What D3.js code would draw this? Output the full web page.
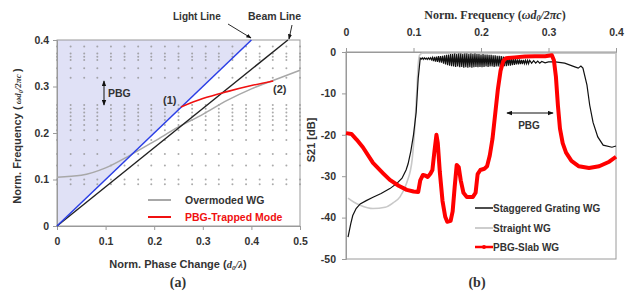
<!DOCTYPE html>
<html>
<head>
<meta charset="utf-8">
<script src="https://cdn.jsdelivr.net/npm/d3@7"></script>
<style>
  body { margin: 0; background: #fff; }
  svg { display: block; font-family: "Liberation Sans", Arial, sans-serif; font-weight: bold; }
  text { fill: #333; }
</style>
</head>
<body>
<div id="chart"></div>
<script>
// ---- panel (a): dispersion diagram ----
const phaseTicks = [0, 0.1, 0.2, 0.3, 0.4, 0.5];
const freqTicksA = [0, 0.1, 0.2, 0.3, 0.4];
const lightLine = [[0, 0], [0.4, 0.4]];
const beamLine = [[0, 0], [0.475, 0.4]];
const overmodedWG = [[0, 0.105], [0.05, 0.109], [0.1, 0.125], [0.15, 0.152], [0.2, 0.182],
  [0.25, 0.213], [0.3, 0.24], [0.35, 0.27], [0.4, 0.295], [0.45, 0.315], [0.5, 0.335]];
const trappedMode = [[0.255, 0.256], [0.3, 0.274], [0.35, 0.289], [0.4, 0.302], [0.445, 0.312]];
const bandCols = [0, 0.028, 0.056, 0.083, 0.111, 0.139, 0.167, 0.194, 0.222, 0.25,
  0.278, 0.306, 0.333, 0.361, 0.389, 0.417, 0.444, 0.472, 0.5];
const bandRows = [0.386, 0.371, 0.364, 0.357, 0.339, 0.319, 0.26, 0.252, 0.244,
  0.236, 0.228, 0.217, 0.206, 0.185, 0.155, 0.13, 0.1, 0.09];

// ---- panel (b): transmission ----
const freqTicksB = [0, 0.1, 0.2, 0.3, 0.4];
const dbTicks = [0, -10, -20, -30, -40, -50];
const straightWG = [[0.003, -35.3], [0.012, -36.3], [0.021, -37], [0.04, -37.8], [0.058, -37.5],
  [0.07, -36.4], [0.08, -35], [0.09, -31.6], [0.098, -26], [0.102, -18], [0.105, -9], [0.107, -3],
  [0.109, -0.8], [0.113, -0.3], [0.2, -0.3], [0.3, -0.3], [0.4, -0.3]];
const staggeredWG = [[0.003, -44.7], [0.007, -41.5], [0.01, -39.5], [0.015, -37.8], [0.021, -36.7],
  [0.03, -35.9], [0.04, -35.1], [0.052, -34.2], [0.065, -33], [0.075, -31.8], [0.083, -30.5],
  [0.089, -28.5], [0.092, -27], [0.096, -24], [0.1, -20], [0.104, -14.5], [0.107, -6.3], [0.11, -1.5],
  [0.1115, -1.7], [0.113, -1.4], [0.1145, -1.8], [0.116, -1.4], [0.1175, -1.7], [0.119, -1.5],
  [0.1205, -1.8], [0.122, -1.4], [0.1235, -1.8], [0.125, -1.4], [0.1265, -1.9], [0.128, -1.3],
  [0.1295, -2.2], [0.131, -1.2], [0.1325, -2.3], [0.134, -1.1], [0.1355, -2.4], [0.137, -1.0],
  [0.1385, -2.5], [0.14, -1.0], [0.1415, -2.6], [0.143, -0.9], [0.1445, -2.8], [0.146, -0.8],
  [0.1475, -3.0], [0.149, -0.7], [0.1505, -3.2], [0.152, -0.6], [0.1535, -3.3], [0.155, -0.5],
  [0.1565, -3.4], [0.158, -0.5], [0.1595, -3.5], [0.161, -0.4], [0.1625, -3.6], [0.164, -0.5],
  [0.1655, -3.5], [0.167, -0.4], [0.1685, -3.7], [0.17, -0.4], [0.1715, -3.6], [0.173, -0.5],
  [0.1745, -3.8], [0.176, -0.4], [0.1775, -3.7], [0.179, -0.4], [0.1805, -3.8], [0.182, -0.5],
  [0.1835, -3.7], [0.185, -0.4], [0.1865, -3.8], [0.188, -0.5], [0.1895, -3.7], [0.191, -0.4],
  [0.1925, -3.6], [0.194, -0.5], [0.1955, -3.7], [0.197, -0.5], [0.1985, -3.6], [0.2, -0.6],
  [0.2015, -3.7], [0.203, -0.5], [0.2045, -3.6], [0.206, -0.6], [0.2075, -3.5], [0.209, -0.6],
  [0.2105, -3.6], [0.212, -0.7], [0.2135, -3.5], [0.215, -0.7], [0.2165, -3.5], [0.218, -0.8],
  [0.2195, -3.6], [0.221, -0.8], [0.2225, -3.5], [0.224, -0.9], [0.2255, -3.5], [0.227, -0.9],
  [0.2285, -3.6], [0.23, -1.0], [0.2315, -3.5], [0.233, -1.1], [0.2345, -3.4], [0.236, -1.2],
  [0.2375, -3.4], [0.239, -1.3], [0.2405, -3.3], [0.242, -1.4], [0.2435, -3.3], [0.245, -1.5],
  [0.2465, -3.2], [0.248, -1.6], [0.2495, -3.1], [0.251, -1.7], [0.2525, -3.0], [0.254, -1.8],
  [0.2555, -3.0], [0.257, -1.8], [0.2585, -2.9], [0.26, -1.9], [0.2615, -2.9], [0.263, -1.9],
  [0.2645, -2.8], [0.266, -2.0], [0.2675, -2.8], [0.269, -2.0], [0.2705, -2.8], [0.272, -2.0],
  [0.275, -2.7], [0.278, -2.1], [0.281, -2.7], [0.284, -2.2], [0.287, -2.7], [0.29, -2.3],
  [0.295, -2.6], [0.3, -2.4], [0.31, -2.4], [0.324, -2.7], [0.339, -3.6],
  [0.344, -3.9], [0.348, -3.4], [0.351, -3.9], [0.357, -8], [0.361, -12.8], [0.366, -17],
  [0.373, -20.5], [0.381, -22.5], [0.394, -23], [0.4, -22.7]];
const pbgSlabWG = [[0, -19.6], [0.008, -19.8], [0.016, -21.2], [0.025, -23], [0.04, -26.8],
  [0.055, -29.3], [0.065, -30.9], [0.078, -32.3], [0.09, -33.3], [0.1, -33.7], [0.107, -33.8],
  [0.11, -31], [0.114, -29.7], [0.118, -29.9], [0.121, -30.2], [0.125, -29.4], [0.128, -28.5],
  [0.131, -24], [0.134, -20], [0.136, -22], [0.139, -29], [0.143, -36], [0.147, -39.8],
  [0.15, -41], [0.155, -40.8], [0.158, -38.5], [0.161, -32.6], [0.164, -27.3], [0.167, -27.8],
  [0.17, -31], [0.174, -34], [0.179, -35], [0.188, -35], [0.192, -34], [0.195, -29.5],
  [0.199, -28.5], [0.205, -28.2], [0.209, -27.6], [0.213, -25], [0.217, -21], [0.221, -15],
  [0.225, -9], [0.229, -4.5], [0.233, -2.2], [0.237, -1.5], [0.25, -1.3], [0.265, -1.1],
  [0.28, -1.0], [0.295, -1.0], [0.305, -0.8], [0.308, -2], [0.311, -6], [0.314, -13],
  [0.317, -18.5], [0.321, -22], [0.326, -24.3], [0.334, -26.3], [0.345, -27.6], [0.36, -28],
  [0.375, -27.6], [0.39, -26.5], [0.4, -25.3]];

const width = 640, height = 291;
const svg = d3.select("#chart").append("svg")
  .attr("width", width).attr("height", height);

const defs = svg.append("defs");
defs.append("marker")
  .attr("id", "arr").attr("viewBox", "0 0 8 6")
  .attr("refX", 7).attr("refY", 3)
  .attr("markerWidth", 6).attr("markerHeight", 5)
  .attr("orient", "auto-start-reverse")
  .append("path").attr("d", "M0,0L8,3L0,6Z").attr("fill", "#111");

const axisGray = "#9a9a9a";
const serif = "Liberation Serif, Times New Roman, serif";

// ================= panel (a) =================
const xa = d3.scaleLinear().domain([0, 0.5]).range([57, 300]);
const ya = d3.scaleLinear().domain([0, 0.4]).range([226, 40]);
const ga = svg.append("g");

// region above light line
ga.append("path")
  .attr("d", d3.line()([[xa(0), ya(0)], [xa(0.4), ya(0.4)], [xa(0), ya(0.4)]]) + "Z")
  .attr("fill", "#e0e1f6");

// band-structure dots
bandCols.forEach(c => {
  ga.selectAll(null).data(bandRows).join("circle")
    .attr("cx", xa(c)).attr("cy", d => ya(d))
    .attr("r", 1).attr("fill", "#8f8f8f").attr("opacity", 0.75);
});

// frame
ga.append("rect").attr("x", 57).attr("y", 40).attr("width", 243).attr("height", 186)
  .attr("fill", "none").attr("stroke", axisGray).attr("stroke-width", 1);

const axA = ga.append("g").attr("transform", `translate(0,${ya(0)})`)
  .call(d3.axisBottom(xa).tickValues(phaseTicks).tickSize(4).tickPadding(8).tickFormat(d3.format("")));
const ayA = ga.append("g").attr("transform", `translate(${xa(0)},0)`)
  .call(d3.axisLeft(ya).tickValues(freqTicksA).tickSize(4).tickPadding(4).tickFormat(d3.format("")));
[axA, ayA].forEach(a => {
  a.attr("font-family", null);
  a.select(".domain").attr("stroke", axisGray);
  a.selectAll(".tick line").attr("stroke", axisGray);
  a.selectAll(".tick text").attr("font-size", 10.5);
});

const lineA = d3.line().x(d => xa(d[0])).y(d => ya(d[1]));
const curveA = d3.line().x(d => xa(d[0])).y(d => ya(d[1])).curve(d3.curveMonotoneX);

ga.append("path").datum(overmodedWG).attr("d", curveA)
  .attr("fill", "none").attr("stroke", "#a8a8a8").attr("stroke-width", 1.5);
ga.append("path").datum(beamLine).attr("d", lineA)
  .attr("fill", "none").attr("stroke", "#222").attr("stroke-width", 1.4);
ga.append("path").datum(lightLine).attr("d", lineA)
  .attr("fill", "none").attr("stroke", "#2b3fe6").attr("stroke-width", 1.5);
ga.append("path").datum(trappedMode).attr("d", curveA)
  .attr("fill", "none").attr("stroke", "#f01010").attr("stroke-width", 1.6);

// annotations
ga.append("text").attr("x", 163).attr("y", 104).attr("font-size", 11).text("(1)");
ga.append("text").attr("x", 273).attr("y", 93).attr("font-size", 11).text("(2)");
ga.append("line").attr("x1", 104).attr("y1", 81).attr("x2", 104).attr("y2", 105)
  .attr("stroke", "#111").attr("stroke-width", 1)
  .attr("marker-start", "url(#arr)").attr("marker-end", "url(#arr)");
ga.append("text").attr("x", 108).attr("y", 97).attr("font-size", 10.5).text("PBG");

ga.append("text").attr("x", 173).attr("y", 20).attr("font-size", 10).text("Light Line");
ga.append("line").attr("x1", 228).attr("y1", 24).attr("x2", 251).attr("y2", 38)
  .attr("stroke", "#111").attr("stroke-width", 0.9).attr("marker-end", "url(#arr)");
ga.append("text").attr("x", 248).attr("y", 20).attr("font-size", 10.5).text("Beam Line");
ga.append("line").attr("x1", 292).attr("y1", 25).attr("x2", 289).attr("y2", 39)
  .attr("stroke", "#111").attr("stroke-width", 0.9).attr("marker-end", "url(#arr)");

// legend (a)
ga.append("line").attr("x1", 148).attr("x2", 171).attr("y1", 200).attr("y2", 200)
  .attr("stroke", "#a8a8a8").attr("stroke-width", 2);
ga.append("text").attr("x", 185).attr("y", 204).attr("font-size", 10.5).text("Overmoded WG");
ga.append("line").attr("x1", 148).attr("x2", 171).attr("y1", 217).attr("y2", 217)
  .attr("stroke", "#f01010").attr("stroke-width", 2);
ga.append("text").attr("x", 185).attr("y", 221).attr("font-size", 10.5)
  .style("fill", "#f01010").text("PBG-Trapped Mode");

// axis titles (a)
const xtA = ga.append("text").attr("x", 178).attr("y", 268).attr("text-anchor", "middle")
  .attr("font-size", 11);
xtA.append("tspan").text("Norm. Phase Change (");
xtA.append("tspan").attr("font-family", serif).attr("font-style", "italic")
  .attr("font-size", 10.5).text("d");
xtA.append("tspan").attr("font-family", serif).attr("font-style", "italic")
  .attr("font-size", 7).attr("dy", 2).text("0");
xtA.append("tspan").attr("font-family", serif).attr("font-style", "italic")
  .attr("font-size", 10.5).attr("dy", -2).text("/λ");
xtA.append("tspan").text(")");

const ytA = ga.append("text").attr("transform", "translate(21,136) rotate(-90)")
  .attr("text-anchor", "middle").attr("font-size", 11);
ytA.append("tspan").text("Norm. Frequency (");
ytA.append("tspan").attr("font-family", serif).attr("font-style", "italic")
  .attr("font-size", 9).text(" ωd");
ytA.append("tspan").attr("font-family", serif).attr("font-style", "italic")
  .attr("font-size", 6).attr("dy", 2).text("0");
ytA.append("tspan").attr("font-family", serif).attr("font-style", "italic")
  .attr("font-size", 9).attr("dy", -2).text("/2πc ");
ytA.append("tspan").text(")");

ga.append("text").attr("x", 178).attr("y", 287).attr("text-anchor", "middle")
  .attr("font-family", serif).attr("font-size", 14).text("(a)");

// ================= panel (b) =================
const xb = d3.scaleLinear().domain([0, 0.4]).range([346, 616]);
const yb = d3.scaleLinear().domain([-50, 0]).range([259, 52]);
const gb = svg.append("g");

gb.append("rect").attr("x", 346).attr("y", 52).attr("width", 270).attr("height", 207)
  .attr("fill", "none").attr("stroke", axisGray).attr("stroke-width", 1);

const axB = gb.append("g").attr("transform", `translate(0,${yb(0)})`)
  .call(d3.axisTop(xb).tickValues(freqTicksB).tickSize(4).tickPadding(12).tickFormat(d3.format("")));
const ayB = gb.append("g").attr("transform", `translate(${xb(0)},0)`)
  .call(d3.axisLeft(yb).tickValues(dbTicks).tickSize(4).tickPadding(6));
[axB, ayB].forEach(a => {
  a.attr("font-family", null);
  a.select(".domain").attr("stroke", axisGray);
  a.selectAll(".tick line").attr("stroke", axisGray);
  a.selectAll(".tick text").attr("font-size", 10.5);
});
ayB.selectAll(".tick text").text(d => d === 0 ? "0" : "-" + Math.abs(d));

const lineB = d3.line().x(d => xb(d[0])).y(d => yb(d[1]));

gb.append("path").datum(straightWG).attr("d", lineB.curve(d3.curveMonotoneX))
  .attr("fill", "none").attr("stroke", "#c8c8c8").attr("stroke-width", 1.6);
gb.append("path").datum(staggeredWG).attr("d", lineB.curve(d3.curveLinear))
  .attr("fill", "none").attr("stroke", "#111").attr("stroke-width", 1.2);
gb.append("path").datum(pbgSlabWG).attr("d", lineB.curve(d3.curveLinear))
  .attr("fill", "none").attr("stroke", "#ff0000").attr("stroke-width", 4)
  .attr("stroke-linejoin", "round");

// PBG arrow (b)
gb.append("line").attr("x1", 507).attr("x2", 553).attr("y1", 113).attr("y2", 113)
  .attr("stroke", "#111").attr("stroke-width", 1)
  .attr("marker-start", "url(#arr)").attr("marker-end", "url(#arr)");
gb.append("text").attr("x", 529).attr("y", 129).attr("text-anchor", "middle")
  .attr("font-size", 10).text("PBG");

// legend (b)
const legB = [
  { name: "Staggered Grating WG", color: "#111", w: 1.5, y: 208 },
  { name: "Straight WG", color: "#c8c8c8", w: 1.8, y: 228 },
  { name: "PBG-Slab WG", color: "#ff0000", w: 2.5, y: 247 }
];
legB.forEach(l => {
  gb.append("line").attr("x1", 475).attr("x2", 493).attr("y1", l.y).attr("y2", l.y)
    .attr("stroke", l.color).attr("stroke-width", l.w);
  gb.append("text").attr("x", 493).attr("y", l.y + 4).attr("font-size", 10).text(l.name);
});
gb.append("circle").attr("cx", 484).attr("cy", 247).attr("r", 2).attr("fill", "#ff0000");

// axis titles (b)
const xtB = gb.append("text").attr("x", 495).attr("y", 19).attr("text-anchor", "middle")
  .attr("font-family", serif).attr("font-size", 12);
xtB.append("tspan").text("Norm. Frequency (");
xtB.append("tspan").attr("font-style", "italic").text("ωd");
xtB.append("tspan").attr("font-style", "italic").attr("font-size", 8).attr("dy", 2).text("0");
xtB.append("tspan").attr("font-style", "italic").attr("dy", -2).text("/2πc");
xtB.append("tspan").text(")");

gb.append("text").attr("transform", "translate(315,140) rotate(-90)")
  .attr("text-anchor", "middle").attr("font-size", 11).text("S21 [dB]");

gb.append("text").attr("x", 477).attr("y", 287).attr("text-anchor", "middle")
  .attr("font-family", serif).attr("font-size", 14).text("(b)");
</script>
</body>
</html>
